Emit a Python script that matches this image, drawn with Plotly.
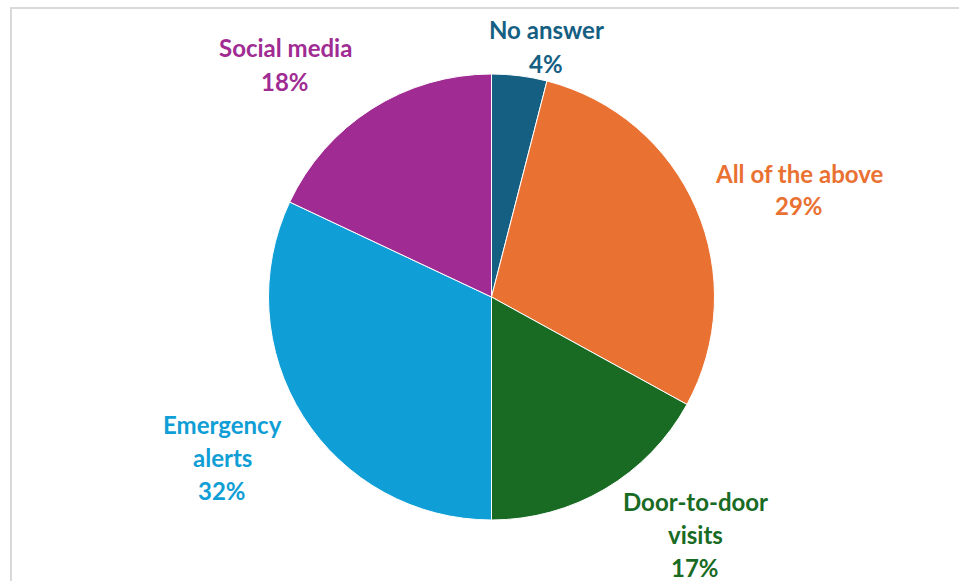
import plotly.graph_objects as go

# Survey responses: preferred way to receive warnings
categories = ["No answer", "All of the above", "Door-to-door visits", "Emergency alerts", "Social media"]
shares = [4, 29, 17, 32, 18]
colors = ["#156082", "#E97132", "#196B24", "#0F9ED5", "#A02B93"]

# Label lines (category text split over lines) and label anchor points in pixels
label_lines = [["No answer"], ["All of the above"], ["Door-to-door", "visits"], ["Emergency", "alerts"], ["Social media"]]
label_x = [546, 799, 695, 222, 285]
label_y = [30, 173, 501, 424, 48]
line_step = 33

W, H = 959, 581
cx, cy, r = 491.5, 297, 223

fig = go.Figure(go.Pie(
    labels=categories,
    values=shares,
    sort=False,
    direction="clockwise",
    rotation=0,
    marker=dict(colors=colors, line=dict(color="white", width=1)),
    textinfo="none",
    hoverinfo="label+percent",
    showlegend=False,
    domain=dict(x=[(cx - r) / W, (cx + r) / W], y=[1 - (cy + r) / H, 1 - (cy - r) / H]),
))

annotations = []
for lines, v, col, x, y in zip(label_lines, shares, colors, label_x, label_y):
    texts = [f"<b>{t}</b>" for t in lines] + [f"<b>{v}%</b>"]
    for i, t in enumerate(texts):
        annotations.append(dict(
            x=x / W, y=1 - (y + i * line_step) / H, xref="paper", yref="paper",
            text=t, showarrow=False, xanchor="center", yanchor="middle",
            font=dict(family="Lato", size=24, color=col),
        ))

fig.update_layout(
    width=W, height=H,
    margin=dict(l=0, r=0, t=0, b=0),
    paper_bgcolor="white",
    plot_bgcolor="white",
    annotations=annotations,
    shapes=[dict(type="rect", xref="paper", yref="paper",
                 x0=11 / W, x1=1.05, y0=-0.05, y1=1 - 8 / H,
                 line=dict(color="#D9D9D9", width=2), fillcolor="rgba(0,0,0,0)")],
)

fig.write_html("out.html")
